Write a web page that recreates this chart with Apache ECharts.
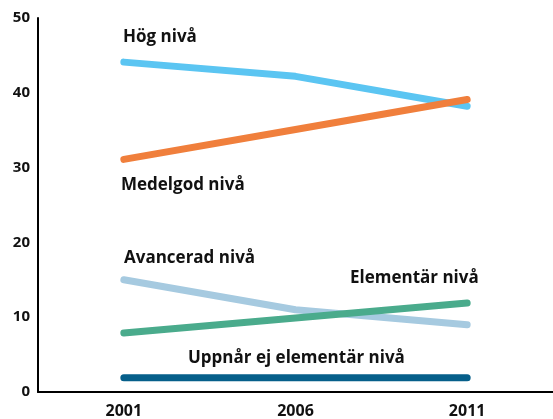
<!DOCTYPE html>
<html>
<head>
<meta charset="utf-8">
<script src="https://cdn.jsdelivr.net/npm/echarts@6/dist/echarts.min.js"></script>
<style>
  html, body { margin: 0; padding: 0; background: #fff; }
  #chart { width: 553px; height: 419px; }
</style>
</head>
<body>
<div id="chart"></div>
<script>
// data
const years = ['2001', '2006', '2011'];
const hog = [44.1, 42.2, 38.2];
const medelgod = [31.1, 35.1, 39.1];
const avancerad = [15.0, 11.0, 9.0];
const elementar = [7.9, 9.9, 11.9];
const uppnarEj = [1.9, 1.9, 1.9];
const yTicks = [0, 10, 20, 30, 40, 50];

const chart = echarts.init(document.getElementById('chart'));

const fontFam = '"Open Sans", Lato, sans-serif';

function line(name, data, color) {
    return {
        name: name,
        type: 'line',
        data: data,
        symbol: 'none',
        lineStyle: { color: color, width: 7, cap: 'round', join: 'round' },
        itemStyle: { color: color },
        animation: false
    };
}

// etiketter i diagrammet
function lbl(text, x, y) {
    return {
        type: 'text',
        left: x,
        top: y,
        style: {
            text: text,
            fill: '#111',
            font: 'bold 17px ' + fontFam
        }
    };
}

const option = {
    grid: { left: 38, right: -13, top: 18, bottom: 27 },
    xAxis: {
        type: 'category',
        data: years,
        boundaryGap: true,
        axisLine: { lineStyle: { color: '#000', width: 2 } },
        axisTick: { show: false },
        axisLabel: { color: '#111', fontWeight: 'bold', fontSize: 16, fontFamily: fontFam, margin: 11 }
    },
    yAxis: {
        type: 'value',
        min: 0,
        max: 50,
        interval: 10,
        axisLine: { show: true, lineStyle: { color: '#000', width: 2 } },
        axisTick: { show: false },
        splitLine: { show: false },
        axisLabel: {
            color: '#111', fontWeight: 'bold', fontSize: 15, fontFamily: fontFam, margin: 8,
            formatter: (v) => yTicks.includes(v) ? String(v) : ''
        }
    },
    series: [
        line('Hög nivå', hog, '#5bc5f2'),
        line('Medelgod nivå', medelgod, '#f07f3c'),
        line('Avancerad nivå', avancerad, '#a6cae0'),
        line('Elementär nivå', elementar, '#4aab8c'),
        line('Uppnår ej elementär nivå', uppnarEj, '#065f8a')
    ],
    graphic: [
        lbl('Hög nivå', 123, 29),
        lbl('Medelgod nivå', 121, 177),
        lbl('Avancerad nivå', 124, 250),
        lbl('Elementär nivå', 350, 270),
        lbl('Uppnår ej elementär nivå', 188, 350)
    ]
};

chart.setOption(option);
</script>
</body>
</html>
